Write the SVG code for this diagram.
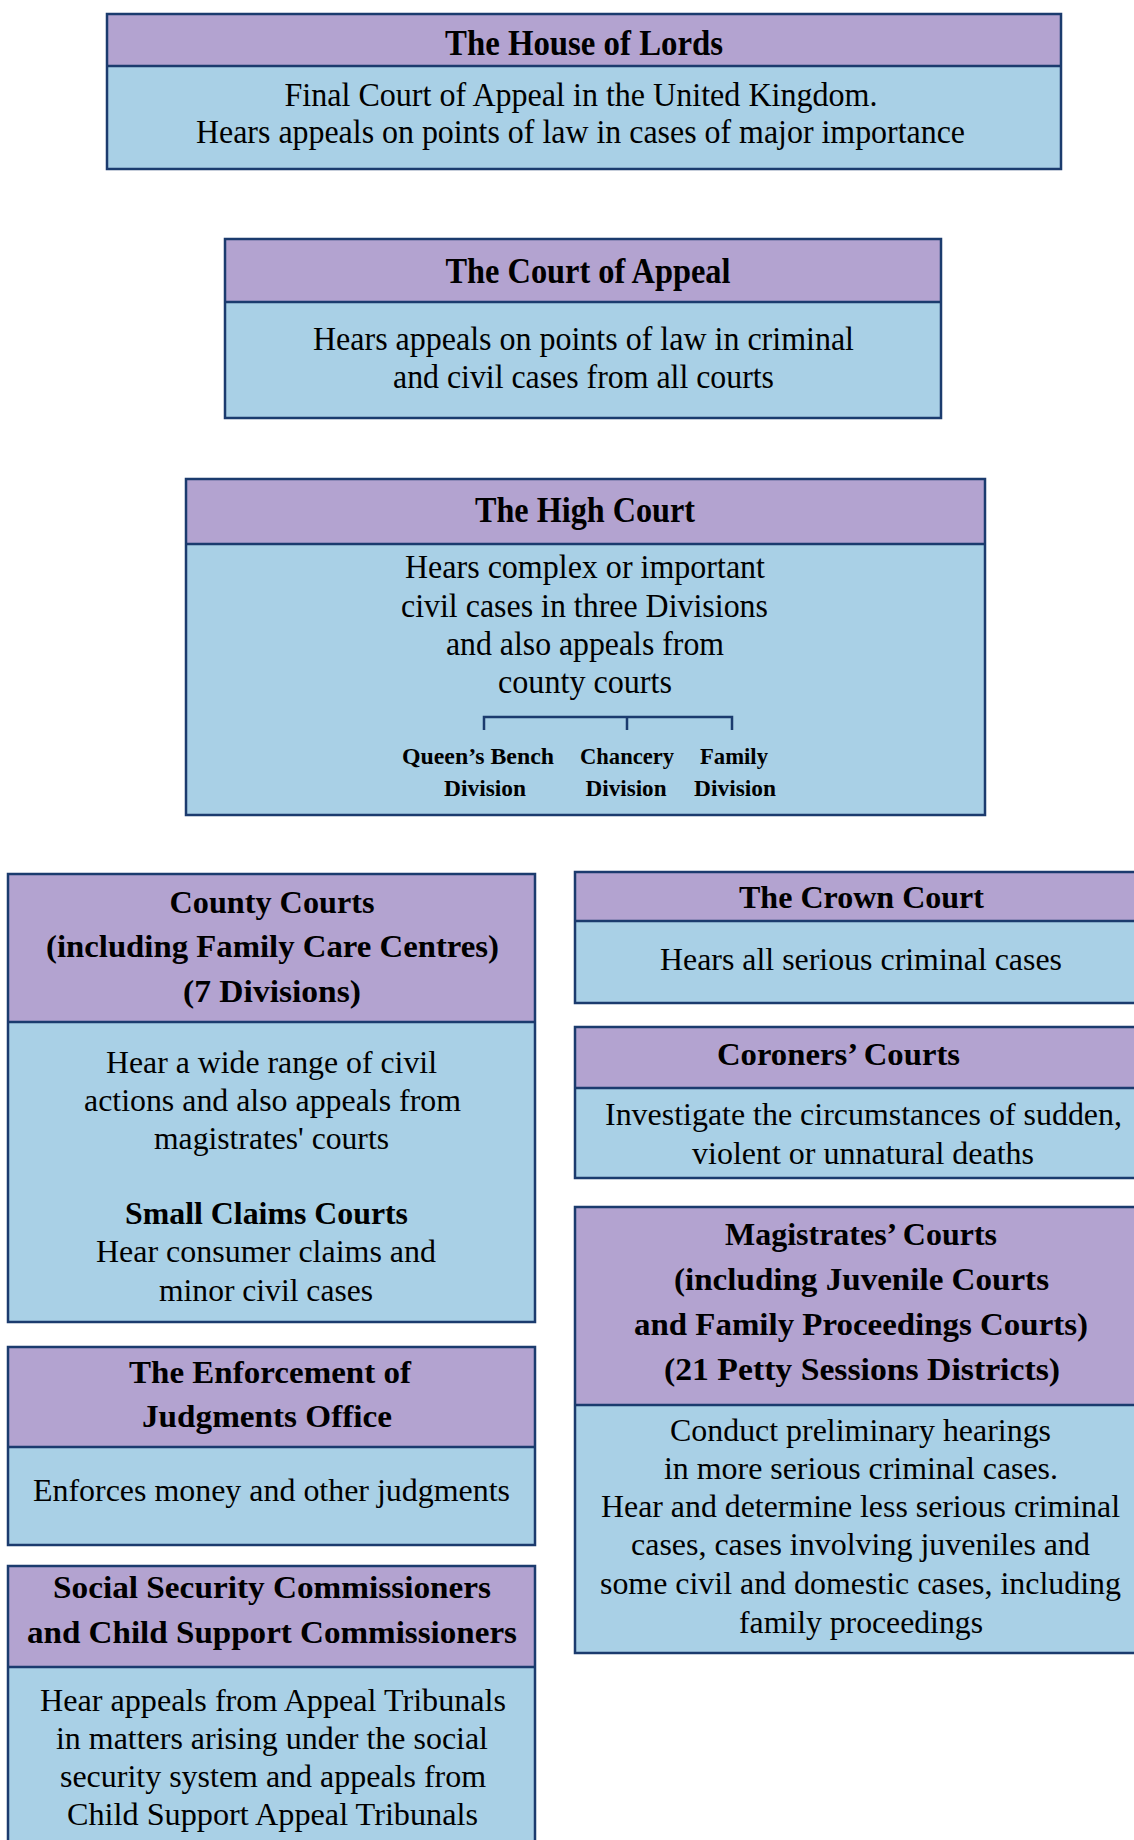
<svg xmlns="http://www.w3.org/2000/svg" width="1134" height="1840" viewBox="0 0 1134 1840">
<style>
.hd{fill:#b3a3d0}
.bd{fill:#a9d0e6}
.ol{fill:none;stroke:#1b3b6e;stroke-width:2.5}
.dv{stroke:#1b3b6e;stroke-width:2.5}
text{font-family:"Liberation Serif","Times New Roman",serif;fill:#000;text-anchor:middle}
.t{font-weight:bold;font-size:35px}
.t2{font-weight:bold;font-size:32px}
.b{font-size:33px}
.b2{font-size:31px}
.d{font-weight:bold;font-size:24px}
.br{fill:none;stroke:#1b3b6e;stroke-width:2.5}
</style>
<rect width="1134" height="1840" fill="#ffffff"/>

<g id="house-of-lords">
<rect class="bd" x="107" y="14" width="954" height="155"/>
<rect class="hd" x="107" y="14" width="954" height="52"/>
<line class="dv" x1="107" y1="66" x2="1061" y2="66"/>
<rect class="ol" x="107" y="14" width="954" height="155"/>
<text class="t" x="584" y="55" textLength="278" lengthAdjust="spacingAndGlyphs">The House of Lords</text>
<text class="b" x="581" y="106" textLength="593" lengthAdjust="spacingAndGlyphs">Final Court of Appeal in the United Kingdom.</text>
<text class="b" x="580.5" y="143" textLength="769" lengthAdjust="spacingAndGlyphs">Hears appeals on points of law in cases of major importance</text>
</g>

<g id="court-of-appeal">
<rect class="bd" x="225" y="239" width="716" height="179"/>
<rect class="hd" x="225" y="239" width="716" height="63"/>
<line class="dv" x1="225" y1="302" x2="941" y2="302"/>
<rect class="ol" x="225" y="239" width="716" height="179"/>
<text class="t" x="588" y="283" textLength="285" lengthAdjust="spacingAndGlyphs">The Court of Appeal</text>
<text class="b" x="583.5" y="350" textLength="541" lengthAdjust="spacingAndGlyphs">Hears appeals on points of law in criminal</text>
<text class="b" x="583.5" y="388" textLength="381" lengthAdjust="spacingAndGlyphs">and civil cases from all courts</text>
</g>

<g id="high-court">
<rect class="bd" x="186" y="479" width="799" height="336"/>
<rect class="hd" x="186" y="479" width="799" height="65"/>
<line class="dv" x1="186" y1="544" x2="985" y2="544"/>
<rect class="ol" x="186" y="479" width="799" height="336"/>
<text class="t" x="585" y="522" textLength="220" lengthAdjust="spacingAndGlyphs">The High Court</text>
<text class="b" x="585" y="578" textLength="360" lengthAdjust="spacingAndGlyphs">Hears complex or important</text>
<text class="b" x="584.5" y="617" textLength="367" lengthAdjust="spacingAndGlyphs">civil cases in three Divisions</text>
<text class="b" x="585" y="655" textLength="278" lengthAdjust="spacingAndGlyphs">and also appeals from</text>
<text class="b" x="585" y="693" textLength="174" lengthAdjust="spacingAndGlyphs">county courts</text>
<text class="d" x="478" y="764" textLength="152" lengthAdjust="spacingAndGlyphs">Queen’s Bench</text>
<text class="d" x="485" y="796" textLength="82" lengthAdjust="spacingAndGlyphs">Division</text>
<text class="d" x="627" y="764" textLength="94" lengthAdjust="spacingAndGlyphs">Chancery</text>
<text class="d" x="626" y="796" textLength="81" lengthAdjust="spacingAndGlyphs">Division</text>
<text class="d" x="734" y="764" textLength="68" lengthAdjust="spacingAndGlyphs">Family</text>
<text class="d" x="735" y="796" textLength="82" lengthAdjust="spacingAndGlyphs">Division</text>
</g>

<g id="connectors">
<path class="br" d="M484 730 V717 H732 V730 M627 717 V730"/>
</g>

<g id="county-courts">
<rect class="bd" x="8" y="874" width="527" height="448"/>
<rect class="hd" x="8" y="874" width="527" height="148"/>
<line class="dv" x1="8" y1="1022" x2="535" y2="1022"/>
<rect class="ol" x="8" y="874" width="527" height="448"/>
<text class="t2" x="272" y="913" textLength="205" lengthAdjust="spacingAndGlyphs">County Courts</text>
<text class="t2" x="272.5" y="957" textLength="453" lengthAdjust="spacingAndGlyphs">(including Family Care Centres)</text>
<text class="t2" x="272" y="1002" textLength="178" lengthAdjust="spacingAndGlyphs">(7 Divisions)</text>
<text class="b2" x="271.5" y="1073" textLength="331" lengthAdjust="spacingAndGlyphs">Hear a wide range of civil</text>
<text class="b2" x="272.5" y="1111" textLength="377" lengthAdjust="spacingAndGlyphs">actions and also appeals from</text>
<text class="b2" x="271.5" y="1149" textLength="235" lengthAdjust="spacingAndGlyphs">magistrates' courts</text>
<text class="t2" x="266.5" y="1224" textLength="283" lengthAdjust="spacingAndGlyphs">Small Claims Courts</text>
<text class="b2" x="266" y="1262" textLength="340" lengthAdjust="spacingAndGlyphs">Hear consumer claims and</text>
<text class="b2" x="266" y="1301" textLength="214" lengthAdjust="spacingAndGlyphs">minor civil cases</text>
</g>

<g id="crown-court">
<rect class="bd" x="575" y="872" width="580" height="131"/>
<rect class="hd" x="575" y="872" width="580" height="49"/>
<line class="dv" x1="575" y1="921" x2="1155" y2="921"/>
<rect class="ol" x="575" y="872" width="580" height="131"/>
<text class="t2" x="861.5" y="908" textLength="245" lengthAdjust="spacingAndGlyphs">The Crown Court</text>
<text class="b2" x="861" y="970" textLength="402" lengthAdjust="spacingAndGlyphs">Hears all serious criminal cases</text>
</g>

<g id="coroners-courts">
<rect class="bd" x="575" y="1027" width="580" height="151"/>
<rect class="hd" x="575" y="1027" width="580" height="61"/>
<line class="dv" x1="575" y1="1088" x2="1155" y2="1088"/>
<rect class="ol" x="575" y="1027" width="580" height="151"/>
<text class="t2" x="838.5" y="1065" textLength="243" lengthAdjust="spacingAndGlyphs">Coroners’ Courts</text>
<text class="b2" x="863.5" y="1125" textLength="517" lengthAdjust="spacingAndGlyphs">Investigate the circumstances of sudden,</text>
<text class="b2" x="863" y="1164" textLength="342" lengthAdjust="spacingAndGlyphs">violent or unnatural deaths</text>
</g>

<g id="magistrates-courts">
<rect class="bd" x="575" y="1207" width="580" height="446"/>
<rect class="hd" x="575" y="1207" width="580" height="198"/>
<line class="dv" x1="575" y1="1405" x2="1155" y2="1405"/>
<rect class="ol" x="575" y="1207" width="580" height="446"/>
<text class="t2" x="861" y="1245" textLength="272" lengthAdjust="spacingAndGlyphs">Magistrates’ Courts</text>
<text class="t2" x="861.5" y="1290" textLength="375" lengthAdjust="spacingAndGlyphs">(including Juvenile Courts</text>
<text class="t2" x="861" y="1335" textLength="454" lengthAdjust="spacingAndGlyphs">and Family Proceedings Courts)</text>
<text class="t2" x="862" y="1380" textLength="396" lengthAdjust="spacingAndGlyphs">(21 Petty Sessions Districts)</text>
<text class="b2" x="860.5" y="1441" textLength="381" lengthAdjust="spacingAndGlyphs">Conduct preliminary hearings</text>
<text class="b2" x="861" y="1479" textLength="394" lengthAdjust="spacingAndGlyphs">in more serious criminal cases.</text>
<text class="b2" x="860.5" y="1517" textLength="519" lengthAdjust="spacingAndGlyphs">Hear and determine less serious criminal</text>
<text class="b2" x="860.5" y="1555" textLength="459" lengthAdjust="spacingAndGlyphs">cases, cases involving juveniles and</text>
<text class="b2" x="860.5" y="1594" textLength="521" lengthAdjust="spacingAndGlyphs">some civil and domestic cases, including</text>
<text class="b2" x="861" y="1633" textLength="244" lengthAdjust="spacingAndGlyphs">family proceedings</text>
</g>

<g id="enforcement-office">
<rect class="bd" x="8" y="1347" width="527" height="198"/>
<rect class="hd" x="8" y="1347" width="527" height="100"/>
<line class="dv" x1="8" y1="1447" x2="535" y2="1447"/>
<rect class="ol" x="8" y="1347" width="527" height="198"/>
<text class="t2" x="270" y="1383" textLength="282" lengthAdjust="spacingAndGlyphs">The Enforcement of</text>
<text class="t2" x="267" y="1427" textLength="250" lengthAdjust="spacingAndGlyphs">Judgments Office</text>
<text class="b2" x="271.5" y="1501" textLength="477" lengthAdjust="spacingAndGlyphs">Enforces money and other judgments</text>
</g>

<g id="social-security-commissioners">
<rect class="bd" x="8" y="1566" width="527" height="300"/>
<rect class="hd" x="8" y="1566" width="527" height="101"/>
<line class="dv" x1="8" y1="1667" x2="535" y2="1667"/>
<rect class="ol" x="8" y="1566" width="527" height="300"/>
<text class="t2" x="272" y="1598" textLength="438" lengthAdjust="spacingAndGlyphs">Social Security Commissioners</text>
<text class="t2" x="272" y="1643" textLength="490" lengthAdjust="spacingAndGlyphs">and Child Support Commissioners</text>
<text class="b2" x="273" y="1711" textLength="466" lengthAdjust="spacingAndGlyphs">Hear appeals from Appeal Tribunals</text>
<text class="b2" x="272" y="1749" textLength="432" lengthAdjust="spacingAndGlyphs">in matters arising under the social</text>
<text class="b2" x="273" y="1787" textLength="426" lengthAdjust="spacingAndGlyphs">security system and appeals from</text>
<text class="b2" x="272.5" y="1825" textLength="411" lengthAdjust="spacingAndGlyphs">Child Support Appeal Tribunals</text>
</g>
</svg>
